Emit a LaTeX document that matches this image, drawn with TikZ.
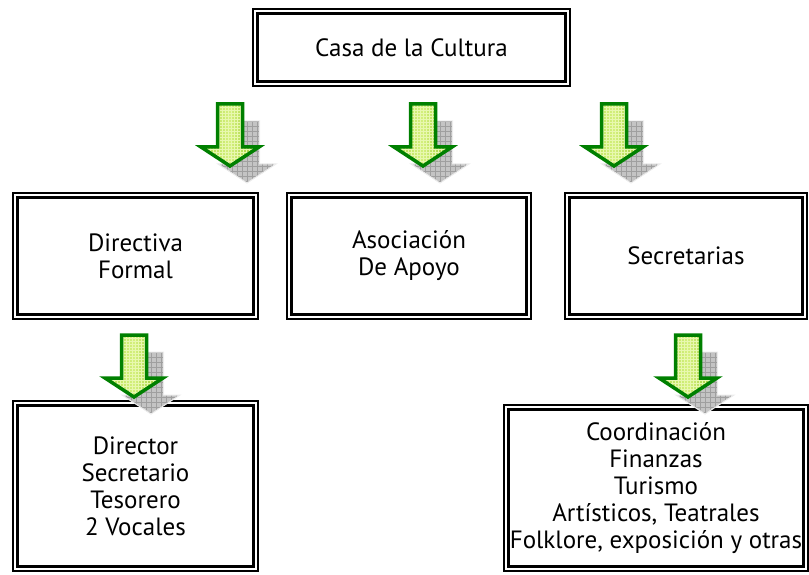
\documentclass[tikz,border=0pt]{standalone}
\usepackage{fontspec}
\setmainfont{PT Sans}
\usetikzlibrary{patterns}

\definecolor{verde}{RGB}{0,128,0}
\definecolor{verdeizq}{RGB}{180,220,80}
\definecolor{verdemed}{RGB}{212,240,125}
\definecolor{verdeder}{RGB}{145,196,40}
\definecolor{rejilla}{RGB}{232,248,175}
\definecolor{sombra}{RGB}{196,196,196}

\tikzset{
  caja/.style={draw, line width=2pt, inner sep=0pt, align=center,
    font=\fontsize{25}{27}\selectfont,
    path picture={\draw[line width=3pt]
      ([shift={(4.5pt,-4.5pt)}]path picture bounding box.north west) rectangle
      ([shift={(-4.5pt,4.5pt)}]path picture bounding box.south east);}},
  forma/.style={insert path={(-12.5,0) -- (12.5,0) -- (12.5,43) -- (29,43) -- (0,62) -- (-29,43) -- (-12.5,43) -- cycle}},
  flecha/.pic={
    % sombra
    \begin{scope}[shift={(17,17)}]
      \clip[forma];
      \fill[sombra] (-30,0) rectangle (30,63);
      \draw[gray!75, line width=0.5pt, step=5pt] (-30,0) grid (30,63);
    \end{scope}
    \draw[shift={(17,17)}, forma, white!85!gray, line width=1pt];
    % flecha verde
    \path[forma, left color=verdeizq, right color=verdeder, middle color=verdemed];
    \path[forma, pattern=grid, pattern color=rejilla];
    \draw[forma, verde, line width=3.5pt, line join=miter];
  }
}

\begin{document}
\begin{tikzpicture}[x=1pt,y=-1pt]
\useasboundingbox (0,0) rectangle (809,575);

\node[caja, minimum width=317pt, minimum height=77pt] (casa) at (411.5,47.5) {Casa de la Cultura};

\node[caja, minimum width=245pt, minimum height=126pt] (directiva) at (135.5,256) {Directiva\\Formal};
\node[caja, minimum width=244pt, minimum height=126pt] (asociacion) at (409,256) {Asociación\\De Apoyo};
\node[caja, minimum width=242pt, minimum height=126pt] (secretarias) at (686,256) {Secretarias};

\node[caja, minimum width=245pt, minimum height=170pt] (director) at (135.5,486) {Director\\Secretario\\Tesorero\\2 Vocales};
\node[caja, minimum width=304pt, minimum height=166pt] (coordinacion) at (656,488) {Coordinación\\Finanzas\\Turismo\\Artísticos, Teatrales\\Folklore, exposición y otras};

% flechas
\pic (f1) at (230,104) {flecha};
\pic (f2) at (423,104) {flecha};
\pic (f3) at (614,104) {flecha};
\pic (f4) at (134,335) {flecha};
\pic (f5) at (688,335) {flecha};
\end{tikzpicture}
\end{document}
